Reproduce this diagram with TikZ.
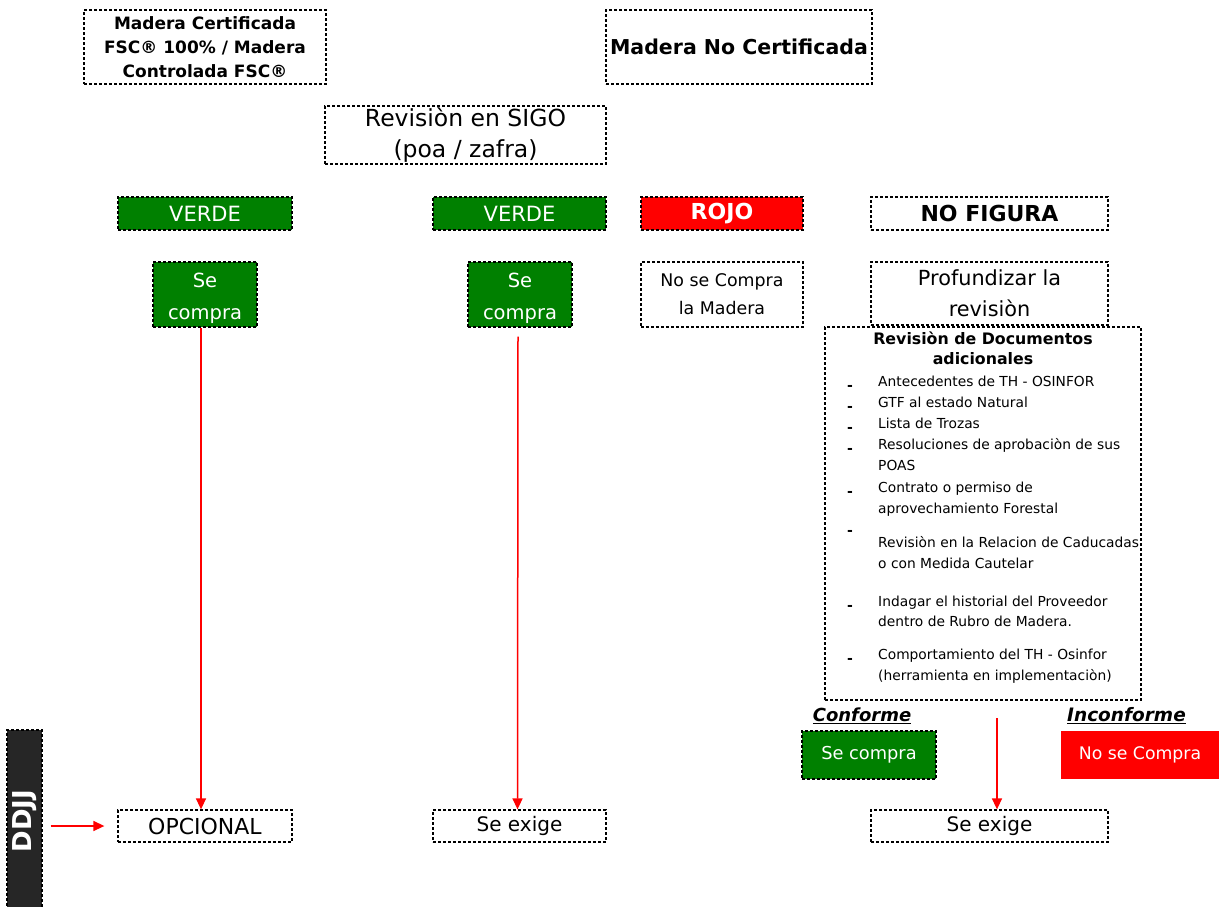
\documentclass[tikz,border=0pt]{standalone}
\usepackage{fontspec}
\setmainfont{DejaVu Sans}
\usetikzlibrary{arrows.meta}
\definecolor{vgreen}{RGB}{0,128,0}
\definecolor{vred}{RGB}{255,0,0}
\definecolor{ddjjfill}{RGB}{38,38,38}
\begin{document}
\begin{tikzpicture}[x=1pt,y=-1pt,
  box/.style={draw=black, dash pattern=on 3pt off 2pt, line width=1.3pt, inner sep=0pt, align=center},
  gbox/.style={box, fill=vgreen, text=white},
  rbox/.style={box, fill=vred, text=white},
  conn/.style={draw=vred, line width=1.5pt, -{Triangle[length=11pt,width=10pt]}},
  item/.style={anchor=base west, inner sep=0pt, font=\fontsize{13.8}{16}\selectfont},
  dashmark/.style={anchor=base west, inner sep=0pt, font=\fontsize{14}{14}\selectfont\bfseries}
]
\useasboundingbox (0,0) rectangle (1219,906);
% top row
\node[box, minimum width=242pt, minimum height=74pt, font=\fontsize{17}{24}\selectfont\bfseries] (cert) at (205,47)
  {Madera Certificada\\FSC® 100\% / Madera\\Controlada FSC®};
\node[box, minimum width=266pt, minimum height=74pt, font=\fontsize{20.5}{24}\selectfont\bfseries] (nocert) at (739,47)
  {Madera No Certificada};
\node[box, minimum width=281pt, minimum height=58pt, font=\fontsize{23.5}{31}\selectfont] (sigo) at (465.5,135)
  {Revisiòn en SIGO\\(poa / zafra)};
% status row
\node[gbox, minimum width=174pt, minimum height=33pt, font=\fontsize{21}{24}\selectfont] (verde1) at (205,213.5) {VERDE};
\node[gbox, minimum width=173pt, minimum height=33pt, font=\fontsize{21}{24}\selectfont] (verde2) at (519.5,213.5) {VERDE};
\node[rbox, minimum width=162pt, minimum height=33pt, font=\fontsize{22}{24}\selectfont\bfseries] (rojo) at (722,213.5) {ROJO};
\node[box, minimum width=237pt, minimum height=33pt, font=\fontsize{22}{24}\selectfont\bfseries] (nofig) at (989.5,213.5) {NO FIGURA};
% decision row
\node[gbox, minimum width=104pt, minimum height=65pt, font=\fontsize{19.5}{32}\selectfont] (se1) at (205,294.5) {\rule{0pt}{22pt}Se\\compra};
\node[gbox, minimum width=104pt, minimum height=65pt, font=\fontsize{19.5}{32}\selectfont] (se2) at (520,294.5) {\rule{0pt}{22pt}Se\\compra};
\node[box, minimum width=162pt, minimum height=65pt, font=\fontsize{17.4}{28}\selectfont] (nose) at (722,294.5) {No se Compra\\la Madera};
\node[box, minimum width=237pt, minimum height=63pt, font=\fontsize{20.8}{31}\selectfont] (prof) at (989.5,293.5) {Profundizar la\\revisiòn};
% documents box
\node[box, fill=white, minimum width=316pt, minimum height=373pt] (docs) at (983,513.5) {};
\node[inner sep=0pt, align=center, font=\fontsize{15.8}{20}\selectfont\bfseries] (doctitle) at (983,348)
  {Revisiòn de Documentos\\adicionales};
\node[dashmark] (d1) at (847,390) {-};
\node[item] (t1) at (878,386) {Antecedentes de TH - OSINFOR};
\node[dashmark] (d2) at (847,411) {-};
\node[item] (t2) at (878,407) {GTF al estado Natural};
\node[dashmark] (d3) at (847,432) {-};
\node[item] (t3) at (878,428) {Lista de Trozas};
\node[dashmark] (d4) at (847,453) {-};
\node[item] (t4) at (878,449) {Resoluciones de aprobaciòn de sus};
\node[item] (t4b) at (878,470) {POAS};
\node[dashmark] (d5) at (847,496) {-};
\node[item] (t5) at (878,492) {Contrato o permiso de};
\node[item] (t5b) at (878,513) {aprovechamiento Forestal};
\node[dashmark] (d6) at (847,535) {-};
\node[item] (t6) at (878,547) {Revisiòn en la Relacion de Caducadas};
\node[item] (t6b) at (878,568) {o con Medida Cautelar};
\node[dashmark] (d7) at (847,610) {-};
\node[item] (t7) at (878,606) {Indagar el historial del Proveedor};
\node[item] (t7b) at (878,626) {dentro de Rubro de Madera.};
\node[dashmark] (d8) at (847,663) {-};
\node[item] (t8) at (878,659) {Comportamiento del TH - Osinfor};
\node[item] (t8b) at (878,680) {(herramienta en implementaciòn)};
% conforme / inconforme
\node[inner sep=0pt, font=\fontsize{18}{20}\selectfont\bfseries\itshape] (conf) at (862,716) {\underline{Conforme}};
\node[inner sep=0pt, font=\fontsize{18.5}{20}\selectfont\bfseries\itshape] (inconf) at (1126.5,716) {\underline{Inconforme}};
\node[gbox, minimum width=134pt, minimum height=48pt, font=\fontsize{17.8}{20}\selectfont] (confbox) at (869,755) {Se compra};
\node[fill=vred, text=white, inner sep=0pt, minimum width=158pt, minimum height=48pt, font=\fontsize{17.3}{20}\selectfont] (inconfbox) at (1140,755) {No se Compra};
% bottom row
\node[box, minimum width=174pt, minimum height=32pt, font=\fontsize{22}{24}\selectfont] (opc) at (205,826) {OPCIONAL};
\node[box, minimum width=173pt, minimum height=32pt, font=\fontsize{20}{24}\selectfont] (ex2) at (519.5,826) {Se exige};
\node[box, minimum width=237pt, minimum height=32pt, font=\fontsize{20}{24}\selectfont] (ex3) at (989.5,826) {Se exige};
% DDJJ
\node[box, draw=black, fill=ddjjfill, text=white, minimum width=35pt, minimum height=182pt] (ddjj) at (24.5,821) {};
\node[rotate=90, text=white, inner sep=0pt, font=\fontsize{26}{28}\selectfont\bfseries] (ddjjt) at (ddjj.center) {DDJJ};
% connectors
\coordinate (c3) at (997,718);
\draw[conn] ([xshift=-4pt]se1.south) -- ([xshift=-4pt]opc.north);
\draw[conn] ([xshift=-2pt,yshift=-9pt]se2.south) -- ([xshift=-2pt]ex2.north);
\draw[conn] (c3) -- (c3 |- ex3.north);
\draw[conn] ([xshift=8pt]ddjj.east |- opc.west) -- ([xshift=-13pt]opc.west);
\end{tikzpicture}
\end{document}
